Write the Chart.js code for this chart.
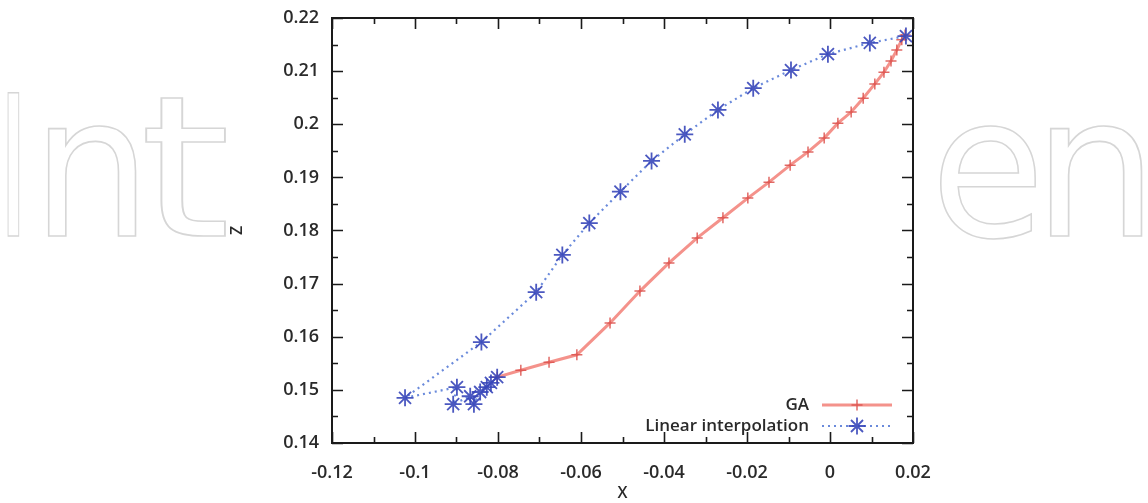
<!DOCTYPE html>
<html>
<head>
<meta charset="utf-8">
<script src="https://cdn.jsdelivr.net/npm/chart.js@4"></script>
<style>
  html, body { margin: 0; padding: 0; background: #fff; }
  #wrap { width: 1148px; height: 503px; position: relative; }
</style>
</head>
<body>
<div id="wrap"><canvas id="c" width="1148" height="503"></canvas></div>
<script>
// ---- data ----
const gaX = [-0.0802, -0.0745, -0.0677, -0.0610, -0.0530, -0.0458, -0.0388, -0.0320, -0.0258, -0.0198,
             -0.0147, -0.0096, -0.0053, -0.0014, 0.0019, 0.0051, 0.0080, 0.0108, 0.0130, 0.0147,
             0.0161, 0.0173, 0.0181];
const gaZ = [0.1524, 0.1537, 0.1552, 0.1566, 0.1626, 0.1686, 0.1739, 0.1786, 0.1824, 0.1861,
             0.1891, 0.1923, 0.1948, 0.1974, 0.2002, 0.2023, 0.2049, 0.2076, 0.2098, 0.2119,
             0.2140, 0.2159, 0.2168];
const linX = [-0.0802, -0.0817, -0.0827, -0.0843, -0.0858, -0.0867, -0.0908, -0.0899, -0.1024,
              -0.0840, -0.0708, -0.0645, -0.0580, -0.0505, -0.0430, -0.0350, -0.0270, -0.0185,
              -0.0094, -0.0005, 0.0096, 0.0183];
const linZ = [0.1524, 0.1513, 0.1505, 0.1496, 0.1473, 0.1488, 0.1473, 0.1505, 0.1485,
              0.1590, 0.1684, 0.1754, 0.1814, 0.1873, 0.1931, 0.1981, 0.2027, 0.2068,
              0.2102, 0.2132, 0.2153, 0.2166];
const xTicksMin = -0.12, xTicksMax = 0.02, xStep = 0.02, xMinor = 0.01;
const zTicksMin = 0.14, zTicksMax = 0.22, zStep = 0.01, zMinor = 0.005;
const seriesNames = ['GA', 'Linear interpolation'];
const axisTitles = ['X', 'Z'];
const watermarkLetters = ['I', 'n', 't', 'e', 'n'];

const FONT = '"Open Sans", "DejaVu Sans", sans-serif';
const fmt = v => String(Number(v.toFixed(4)));

const toPts = (xs, ys) => xs.map((x, i) => ({ x, y: ys[i] }));

const bgPlugin = {
  id: 'bg',
  beforeDraw(chart) {
    const ctx = chart.ctx;
    ctx.save();
    ctx.fillStyle = '#fff';
    ctx.fillRect(0, 0, chart.width, chart.height);
    ctx.font = '196px "DejaVu Sans", sans-serif';
    ctx.textBaseline = 'alphabetic';
    ctx.strokeStyle = '#d6d6d6';
    ctx.lineWidth = 1.6;
    const spans = [[8, 19], [48, 136], [146, 226], [940, 1036], [1050, 1142]];
    watermarkLetters.forEach((t, i) => {
      const m = ctx.measureText(t);
      const gl = -m.actualBoundingBoxLeft, gw = m.actualBoundingBoxRight + m.actualBoundingBoxLeft;
      const [x0, x1] = spans[i];
      const sx = (x1 - x0) / gw;
      ctx.save();
      ctx.translate(x0, 236);
      ctx.scale(sx, 1);
      ctx.strokeText(t, -gl, 0);
      ctx.restore();
    });
    ctx.restore();
  }
};

const framePlugin = {
  id: 'frame',
  afterDatasetsDraw(chart) {
    const { ctx, chartArea: a, scales: { x, y } } = chart;
    ctx.save();
    ctx.strokeStyle = '#1a1a1a';
    ctx.lineWidth = 1.6;
    const eps = 1e-9;
    for (let v = xTicksMin; v <= xTicksMax + eps; v += xMinor) {
      const px = Math.round(x.getPixelForValue(v)) + 0.5;
      const major = Math.abs(Math.round(v / xStep) * xStep - v) < eps;
      const len = major ? 11 : 6;
      ctx.beginPath();
      ctx.moveTo(px, a.bottom); ctx.lineTo(px, a.bottom - len);
      ctx.moveTo(px, a.top); ctx.lineTo(px, a.top + len);
      ctx.stroke();
    }
    for (let v = zTicksMin; v <= zTicksMax + eps; v += zMinor) {
      const py = Math.round(y.getPixelForValue(v)) + 0.5;
      const major = Math.abs(Math.round(v / zStep) * zStep - v) < eps;
      const len = major ? 11 : 6;
      ctx.beginPath();
      ctx.moveTo(a.left, py); ctx.lineTo(a.left + len, py);
      ctx.moveTo(a.right, py); ctx.lineTo(a.right - len, py);
      ctx.stroke();
    }
    ctx.lineWidth = 2;
    ctx.strokeRect(a.left, a.top, a.right - a.left, a.bottom - a.top);

    // legend (inside, bottom-right)
    const ds = chart.data.datasets;
    const textRight = a.right - 104, s0 = a.right - 91, s1 = a.right - 21;
    const rows = [a.bottom - 38, a.bottom - 17];
    ctx.font = '600 17px ' + FONT;
    ctx.textAlign = 'right';
    ctx.textBaseline = 'middle';
    [ds[0], ds[1]].forEach((d, i) => {
      const yy = rows[i];
      ctx.fillStyle = '#2a2a2a';
      ctx.fillText(d.label, textRight, yy);
      ctx.save();
      ctx.strokeStyle = d.borderColor;
      ctx.lineWidth = d.borderWidth;
      ctx.setLineDash(d.borderDash || []);
      ctx.beginPath(); ctx.moveTo(s0, yy); ctx.lineTo(s1, yy); ctx.stroke();
      ctx.restore();
      ctx.save();
      ctx.strokeStyle = d.pointBorderColor;
      ctx.fillStyle = d.pointBackgroundColor;
      ctx.lineWidth = d.pointBorderWidth;
      Chart.helpers.drawPoint(ctx, {
        pointStyle: d.pointStyle, radius: d.pointRadius, borderWidth: d.pointBorderWidth, rotation: 0
      }, (s0 + s1) / 2, yy);
      ctx.restore();
    });
    ctx.restore();
  }
};

const tickFont = { family: FONT, size: 18, weight: '600' };

new Chart(document.getElementById('c'), {
  type: 'scatter',
  data: {
    datasets: [
      {
        label: seriesNames[0],
        data: toPts(gaX, gaZ),
        showLine: true,
        borderColor: 'rgba(240,110,100,0.75)',
        backgroundColor: 'rgba(240,110,100,0.75)',
        borderWidth: 3,
        pointStyle: 'cross',
        pointRadius: 5.5,
        pointBorderWidth: 1.5,
        pointBorderColor: 'rgba(220,80,75,0.85)',
        pointBackgroundColor: 'rgba(220,80,75,0.85)',
        tension: 0,
        order: 1
      },
      {
        label: seriesNames[1],
        data: toPts(linX, linZ),
        showLine: true,
        borderColor: 'rgba(90,125,215,0.9)',
        backgroundColor: 'rgba(90,125,215,0.9)',
        borderWidth: 2.2,
        borderDash: [2, 4],
        pointStyle: 'star',
        pointRadius: 8.5,
        pointBorderWidth: 1.8,
        pointBorderColor: 'rgba(55,70,185,0.9)',
        pointBackgroundColor: 'rgba(55,70,185,0.9)',
        tension: 0,
        order: 0
      }
    ]
  },
  options: {
    responsive: false,
    animation: false,
    layout: { padding: { left: 225, right: 235, top: 18, bottom: 0 } },
    plugins: { legend: { display: false }, tooltip: { enabled: false } },
    scales: {
      x: {
        type: 'linear', min: xTicksMin, max: xTicksMax,
        grid: { display: false }, border: { display: false },
        ticks: { stepSize: xStep, padding: 11, color: '#2a2a2a', font: tickFont, callback: v => fmt(v), maxRotation: 0 },
        title: { display: true, text: axisTitles[0], color: '#2a2a2a', font: { family: FONT, size: 16, weight: '600' }, padding: { top: 0, bottom: 0 } },
        afterFit: s => { s.height = 60; }
      },
      y: {
        type: 'linear', min: zTicksMin, max: zTicksMax,
        grid: { display: false }, border: { display: false },
        ticks: { stepSize: zStep, padding: 5, color: '#2a2a2a', font: tickFont, callback: v => fmt(v) },
        title: { display: true, text: axisTitles[1], color: '#2a2a2a', font: { family: FONT, size: 16, weight: '600' }, padding: { top: 3, bottom: 0 } },
        afterFit: s => { s.width = 107; }
      }
    }
  },
  plugins: [bgPlugin, framePlugin]
});
</script>
</body>
</html>
